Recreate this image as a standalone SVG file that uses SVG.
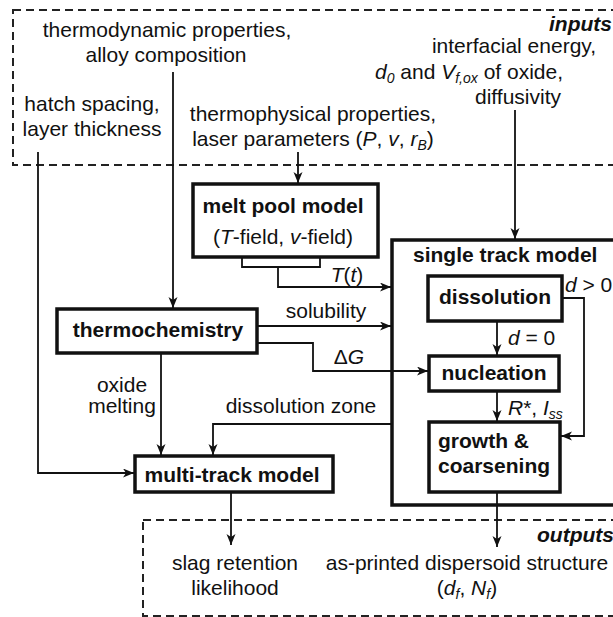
<svg xmlns="http://www.w3.org/2000/svg" width="613" height="617" viewBox="0 0 613 617">
<defs>
<marker id="arr" markerUnits="userSpaceOnUse" markerWidth="12" markerHeight="10" refX="11" refY="4.5" orient="auto">
<path d="M0,0 L11,4.5 L0,9 L3,4.5 Z" fill="#111"/>
</marker>
<style>
text{font-family:"Liberation Sans",Arial,sans-serif;font-size:21px;fill:#111}
.b{font-weight:bold}
.i{font-style:italic}
.m{text-anchor:middle}
.s{font-size:14px}
.box{fill:#fff;stroke:#111;stroke-width:3.5}
.dash{fill:none;stroke:#222;stroke-width:2;stroke-dasharray:8,5}
.c{fill:none;stroke:#111;stroke-width:1.8}
.ca{fill:none;stroke:#111;stroke-width:1.8;marker-end:url(#arr)}
</style>
</defs>
<rect width="613" height="617" fill="#fff"/>

<g id="inputs">
<rect class="dash" x="13" y="10" width="640" height="155"/>
<text class="b i" x="612" y="31" text-anchor="end">inputs</text>
<text class="m" x="167" y="37">thermodynamic properties,</text>
<text class="m" x="166" y="62">alloy composition</text>
<text class="m" x="92" y="111">hatch spacing,</text>
<text class="m" x="92" y="136">layer thickness</text>
<text class="m" x="313" y="121">thermophysical properties,</text>
<text class="m" x="313" y="146">laser parameters (<tspan class="i">P</tspan>, <tspan class="i">v</tspan>, <tspan class="i">r</tspan><tspan class="i s" dy="4">B</tspan><tspan dy="-4">)</tspan></text>
<text class="m" x="514" y="53">interfacial energy,</text>
<text x="375" y="79"><tspan class="i">d</tspan><tspan class="i s" dy="4">0</tspan><tspan dy="-4"> and </tspan><tspan class="i">V</tspan><tspan class="i s" dy="4">f,ox</tspan><tspan dy="-4"> of oxide,</tspan></text>
<text class="m" x="518" y="104">diffusivity</text>
</g>

<g id="outputs">
<rect class="dash" x="143" y="520" width="520" height="96"/>
<text class="b i" x="537" y="542">outputs</text>
<text class="m" x="235" y="570">slag retention</text>
<text class="m" x="235" y="595">likelihood</text>
<text class="m" x="467" y="570">as-printed dispersoid structure</text>
<text class="m" x="467" y="595">(<tspan class="i">d</tspan><tspan class="i s" dy="4">f</tspan><tspan dy="-4">, </tspan><tspan class="i">N</tspan><tspan class="i s" dy="4">f</tspan><tspan dy="-4">)</tspan></text>
</g>

<g id="connectors">
<path class="ca" d="M38,152 V473 H134"/>
<path class="ca" d="M173,72 V308"/>
<path class="ca" d="M298,152 V183"/>
<path class="ca" d="M515,110 V239"/>
<path class="c" d="M242,248 V267 H320 V248"/>
<path class="ca" d="M278,267 V287 H391"/>
<path class="ca" d="M257,326 H391"/>
<path class="ca" d="M257,343 H313 V371 H428"/>
<path class="ca" d="M161,353 V455"/>
<path class="ca" d="M392,424 H213 V455"/>
<path class="ca" d="M497,321 V355"/>
<path class="ca" d="M497,391 V421"/>
<path class="ca" d="M562,298 H584 V436 H561"/>
<path class="ca" d="M497,492 V547"/>
<path class="ca" d="M231,492 V545"/>
<text class="i" x="347" y="282" text-anchor="middle">T<tspan font-style="normal">(</tspan>t<tspan font-style="normal">)</tspan></text>
<text class="m" x="326" y="318">solubility</text>
<text class="m" x="349" y="364">Δ<tspan class="i">G</tspan></text>
<text class="m" x="122" y="392">oxide</text>
<text class="m" x="122" y="413">melting</text>
<text class="m" x="301" y="413">dissolution zone</text>
<text x="508" y="345"><tspan class="i">d</tspan> = 0</text>
<text x="508" y="415"><tspan class="i">R</tspan>*, <tspan class="i">I</tspan><tspan class="i s" dy="4">ss</tspan></text>
<text x="565" y="292"><tspan class="i">d</tspan> &gt; 0</text>
</g>

<g id="melt-pool-model">
<rect class="box" x="193" y="184" width="185" height="73"/>
<text class="b m" x="283" y="213">melt pool model</text>
<text class="m" x="283" y="244">(<tspan class="i">T</tspan>-field, <tspan class="i">v</tspan>-field)</text>
</g>

<g id="single-track-model">
<rect class="box" x="392" y="240" width="260" height="265" style="fill:none"/>
<text class="b" x="413" y="262">single track model</text>
</g>

<g id="dissolution">
<rect class="box" x="428" y="276" width="134" height="45"/>
<text class="b m" x="495" y="304">dissolution</text>
</g>

<g id="nucleation">
<rect class="box" x="429" y="356" width="130" height="35"/>
<text class="b m" x="494" y="380">nucleation</text>
</g>

<g id="growth-coarsening">
<rect class="box" x="429" y="422" width="131" height="70"/>
<text class="b" x="438" y="448">growth &amp;</text>
<text class="b" x="438" y="473">coarsening</text>
</g>

<g id="thermochemistry">
<rect class="box" x="57" y="309" width="200" height="44"/>
<text class="b m" x="158" y="337">thermochemistry</text>
</g>

<g id="multi-track-model">
<rect class="box" x="135" y="456" width="198" height="36"/>
<text class="b m" x="232" y="482">multi-track model</text>
</g>
</svg>
